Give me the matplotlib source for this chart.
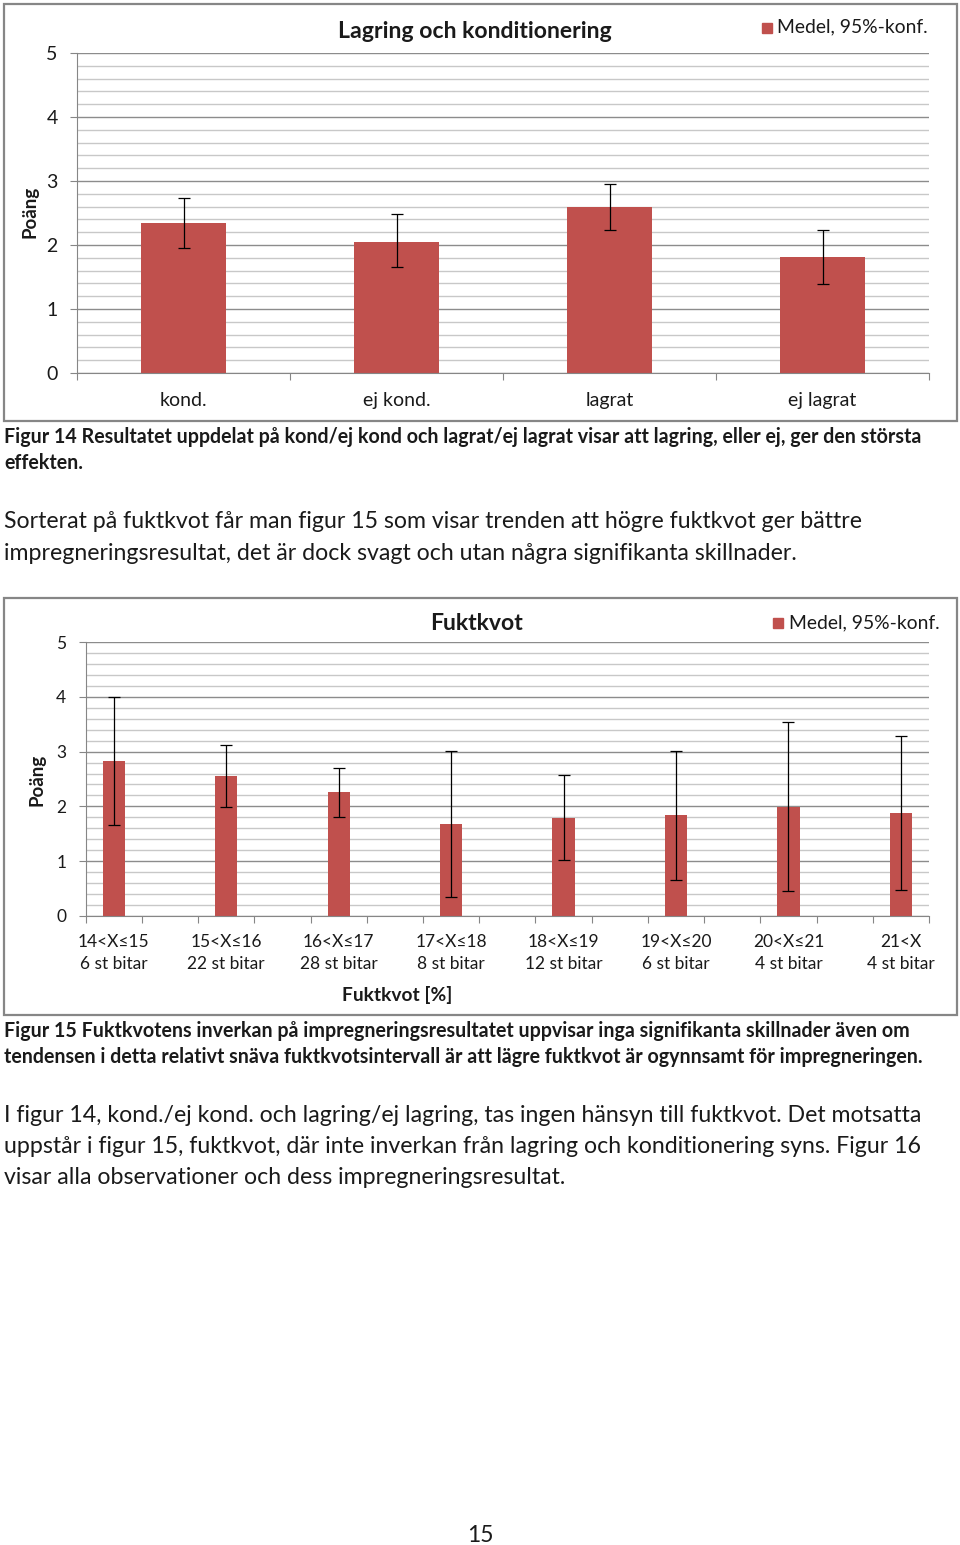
import matplotlib
matplotlib.use("Agg")
import matplotlib.pyplot as plt
from matplotlib.patches import Rectangle
from matplotlib.ticker import MultipleLocator
import numpy as np

plt.rcParams['font.family'] = ['Lato', 'DejaVu Sans']

# figur 14 data
cat1 = ["kond.", "ej kond.", "lagrat", "ej lagrat"]
medel1 = [2.34, 2.05, 2.60, 1.82]
konf_hi1 = [2.73, 2.49, 2.95, 2.24]
konf_lo1 = [1.95, 1.65, 2.23, 1.39]

# figur 15 data (every second slot in the excel chart is empty)
cat2 = ["14<X≤15\n6 st bitar", "15<X≤16\n22 st bitar", "16<X≤17\n28 st bitar",
        "17<X≤18\n8 st bitar", "18<X≤19\n12 st bitar", "19<X≤20\n6 st bitar",
        "20<X≤21\n4 st bitar", "21<X\n4 st bitar"]
medel2 = [2.83, 2.55, 2.26, 1.68, 1.78, 1.84, 1.99, 1.87]
konf_hi2 = [4.00, 3.13, 2.71, 3.02, 2.57, 3.01, 3.54, 3.29]
konf_lo2 = [1.65, 1.99, 1.80, 0.34, 1.02, 0.65, 0.45, 0.47]

W, H = 960, 1545
RED = "#C0504D"
GRID = "#8C8C8C"
MINOR = "#C8C8C8"
TXT = "#1a1a1a"


def fx(x):
    return x / W


def fy(y):
    return 1 - y / H


def frame(fig, x0, y0, x1, y1):
    r = Rectangle((fx(x0), fy(y1)), fx(x1 - x0), (y1 - y0) / H, transform=fig.transFigure,
                  fill=False, edgecolor="#868686", linewidth=1.6)
    fig.patches.append(r)


def bar_axes(fig, rect, cats, medel, hi, lo, step, fs, lpad):
    ax = fig.add_axes(rect)
    n = (len(cats) - 1) * step + 1
    x = np.arange(len(cats)) * step
    ax.set_axisbelow(True)
    yerr = [np.array(medel) - np.array(lo), np.array(hi) - np.array(medel)]
    ax.bar(x, medel, width=0.395, color=RED, zorder=2)
    ax.errorbar(x, medel, yerr=yerr, fmt="none", ecolor="black", elinewidth=0.9,
                capsize=4, capthick=0.9, zorder=3)
    ax.set_xlim(-0.5, n - 0.5)
    ax.set_ylim(0, 5)
    ax.yaxis.set_major_locator(MultipleLocator(1))
    ax.yaxis.set_minor_locator(MultipleLocator(0.2))
    ax.grid(axis="y", which="major", color=GRID, linewidth=1.0)
    ax.grid(axis="y", which="minor", color=MINOR, linewidth=1.0)
    ax.set_xticks(np.arange(n + 1) - 0.5)
    ax.set_xticklabels([])
    ax.set_xticks(x, cats, minor=True)
    ax.tick_params(axis="x", which="minor", length=0, pad=lpad, labelsize=fs, colors=TXT)
    ax.tick_params(axis="x", which="major", length=5, color="#868686")
    ax.tick_params(axis="y", which="major", length=5, color="#868686", pad=9, labelsize=fs,
                   labelcolor=TXT)
    ax.tick_params(axis="y", which="minor", length=0)
    for s in ["top", "right"]:
        ax.spines[s].set_visible(False)
    for s in ["left", "bottom"]:
        ax.spines[s].set_color("#868686")
    return ax


fig = plt.figure(figsize=(W / 100, H / 100), dpi=100)

# ---- figur 14
frame(fig, 4, 4, 957, 421)
ax1 = bar_axes(fig, [fx(77), fy(373), fx(852), 320 / H], cat1, medel1, konf_hi1, konf_lo1,
               1, 14, 14)
fig.text(fx(475), fy(31), "Lagring och konditionering", ha="center", va="center",
         fontsize=16.6, fontweight="bold", color=TXT)
fig.patches.append(Rectangle((fx(762), fy(33)), fx(10), 10 / H, transform=fig.transFigure,
                             color=RED))
fig.text(fx(777), fy(27), "Medel, 95%-konf.", ha="left", va="center", fontsize=13.9,
         color=TXT)
fig.text(fx(30), fy(212), "Poäng", ha="center", va="center", rotation=90, fontsize=13.5,
         fontweight="bold", color=TXT)

cap_fs = 14.1
body_fs = 16.7
fig.text(fx(4), fy(437), "Figur 14 Resultatet uppdelat på kond/ej kond och lagrat/ej lagrat visar att lagring, eller ej, ger den största",
         ha="left", va="center", fontsize=cap_fs, fontweight="bold", color=TXT)
fig.text(fx(4), fy(463), "effekten.", ha="left", va="center", fontsize=cap_fs, fontweight="bold",
         color=TXT)

fig.text(fx(4), fy(522), "Sorterat på fuktkvot får man figur 15 som visar trenden att högre fuktkvot ger bättre",
         ha="left", va="center", fontsize=body_fs, color=TXT)
fig.text(fx(4), fy(553), "impregneringsresultat, det är dock svagt och utan några signifikanta skillnader.",
         ha="left", va="center", fontsize=body_fs, color=TXT)

# ---- figur 15
frame(fig, 4, 598, 957, 1015)
ax2 = bar_axes(fig, [fx(85.7), fy(915.7), fx(929 - 85.7), (915.7 - 642.3) / H], cat2, medel2,
               konf_hi2, konf_lo2, 2, 12.5, 13)
for t in ax2.get_xticklabels(minor=True):
    t.set_linespacing(1.5)
fig.text(fx(477), fy(623), "Fuktkvot", ha="center", va="center", fontsize=16.6,
         fontweight="bold", color=TXT)
fig.patches.append(Rectangle((fx(773), fy(628)), fx(10), 10 / H, transform=fig.transFigure,
                             color=RED))
fig.text(fx(789), fy(623), "Medel, 95%-konf.", ha="left", va="center", fontsize=13.9,
         color=TXT)
fig.text(fx(37), fy(780), "Poäng", ha="center", va="center", rotation=90, fontsize=13.5,
         fontweight="bold", color=TXT)
fig.text(fx(397), fy(995), "Fuktkvot [%]", ha="center", va="center", fontsize=13.8,
         fontweight="bold", color=TXT)

fig.text(fx(4), fy(1031), "Figur 15 Fuktkvotens inverkan på impregneringsresultatet uppvisar inga signifikanta skillnader även om",
         ha="left", va="center", fontsize=cap_fs, fontweight="bold", color=TXT)
fig.text(fx(4), fy(1057), "tendensen i detta relativt snäva fuktkvotsintervall är att lägre fuktkvot är ogynnsamt för impregneringen.",
         ha="left", va="center", fontsize=cap_fs, fontweight="bold", color=TXT)

body = ["I figur 14, kond./ej kond. och lagring/ej lagring, tas ingen hänsyn till fuktkvot. Det motsatta",
        "uppstår i figur 15, fuktkvot, där inte inverkan från lagring och konditionering syns. Figur 16",
        "visar alla observationer och dess impregneringsresultat."]
for i, line in enumerate(body):
    fig.text(fx(4), fy(1116 + i * 30.5), line, ha="left", va="center", fontsize=body_fs, color=TXT)

fig.text(fx(480), fy(1536), "15", ha="center", va="center", fontsize=16.5, color=TXT)

fig.savefig("out.png", dpi=100)
